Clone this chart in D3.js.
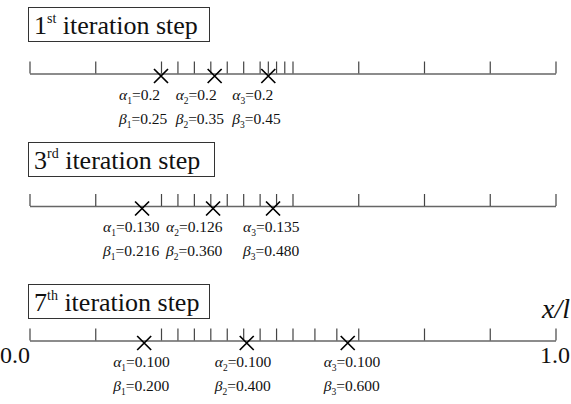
<!DOCTYPE html>
<html>
<head>
<meta charset="utf-8">
<script src="https://cdn.jsdelivr.net/npm/d3@7"></script>
<style>
  body { margin: 0; background: #fff; }
  svg { display: block; font-family: "Liberation Serif", "Times New Roman", serif; }
</style>
</head>
<body>
<div id="graphic"></div>
<script>
// iteration steps shown
var stepNumbers = ["1", "3", "7"];
var stepSuffixes = ["st", "rd", "th"];

// mesh node positions (x/l) for each step
var ticksStep1 = [0, 0.125, 0.25, 0.28125, 0.3125, 0.34375, 0.375, 0.40625, 0.4375,
  0.453125, 0.46875, 0.484375, 0.5, 0.625, 0.75, 0.875, 1];
var ticksStep3 = [0, 0.125, 0.25, 0.28125, 0.3125, 0.34375, 0.375, 0.40625, 0.4375,
  0.46875, 0.5, 0.625, 0.75, 0.875, 1];
var ticksStep7 = [0, 0.125, 0.25, 0.28125, 0.3125, 0.34375, 0.375, 0.40625, 0.4375,
  0.46875, 0.5, 0.541667, 0.583333, 0.625, 0.75, 0.875, 1];

// crack markers (x/l) as drawn
var crossStep1 = [0.25, 0.352, 0.454];
var crossStep3 = [0.214, 0.349, 0.463];
var crossStep7 = [0.218, 0.413, 0.605];

// identified parameters
var alphaStep1 = ["0.2", "0.2", "0.2"];
var betaStep1 = ["0.25", "0.35", "0.45"];
var alphaStep3 = ["0.130", "0.126", "0.135"];
var betaStep3 = ["0.216", "0.360", "0.480"];
var alphaStep7 = ["0.100", "0.100", "0.100"];
var betaStep7 = ["0.200", "0.400", "0.600"];

var axisLabels = ["0.0", "1.0"];

(function () {
  var width = 571, height = 404;
  var rows = [
    {ticks: ticksStep1, cross: crossStep1, alpha: alphaStep1, beta: betaStep1},
    {ticks: ticksStep3, cross: crossStep3, alpha: alphaStep3, beta: betaStep3},
    {ticks: ticksStep7, cross: crossStep7, alpha: alphaStep7, beta: betaStep7}
  ];
  // layout per row
  var axisY = [73.5, 206, 340.5];
  var boxTop = [7, 142, 284];
  var boxW = [181, 186, 181];
  var labelOffset = [[-42, -39, -36], [-39, -47, -30], [-31, -32, -24]];

  var x = d3.scaleLinear().domain([0, 1]).range([29.5, 555.5]);

  var svg = d3.select("#graphic").append("svg")
    .attr("width", width)
    .attr("height", height);

  rows.forEach(function (row, i) {
    var g = svg.append("g");

    // title box
    g.append("rect")
      .attr("x", 28.5).attr("y", boxTop[i] + 0.5)
      .attr("width", boxW[i]).attr("height", 34)
      .attr("fill", "none").attr("stroke", "#333").attr("stroke-width", 1);
    var title = g.append("text")
      .attr("x", 34).attr("y", boxTop[i] + 27)
      .attr("font-size", 26).attr("fill", "#111");
    title.append("tspan").text(stepNumbers[i]);
    title.append("tspan").attr("font-size", 14).attr("dy", -11).text(stepSuffixes[i]);
    title.append("tspan").attr("dy", 11).text(" iteration step");

    // axis with mesh ticks
    var ax = g.append("g")
      .attr("transform", "translate(0," + axisY[i] + ")")
      .call(d3.axisTop(x).tickValues(row.ticks).tickSize(12).tickSizeOuter(0).tickFormat(""));
    ax.select(".domain").attr("stroke", "#666").attr("stroke-width", 1.4);
    ax.selectAll(".tick line").attr("stroke", "#444").attr("stroke-width", 1.2);

    // crosses
    var s = 7;
    g.selectAll(".cross")
      .data(row.cross)
      .enter().append("path")
      .attr("d", function (d) {
        var cx = x(d), cy = axisY[i] + 2.5;
        return "M" + (cx - s) + "," + (cy - s) + "L" + (cx + s) + "," + (cy + s) +
               "M" + (cx - s) + "," + (cy + s) + "L" + (cx + s) + "," + (cy - s);
      })
      .attr("stroke", "#000").attr("stroke-width", 1.7).attr("fill", "none");

    // alpha / beta labels
    function label(sym, vals, dy) {
      var t = g.selectAll(".lab-" + sym)
        .data(vals)
        .enter().append("text")
        .attr("x", function (d, j) { return x(row.cross[j]) + labelOffset[i][j]; })
        .attr("y", axisY[i] + dy)
        .attr("font-size", 15.5).attr("fill", "#111");
      t.append("tspan").attr("font-style", "italic").text(sym);
      t.append("tspan").attr("font-size", 9.5).attr("dy", 4)
        .text(function (d, j) { return j + 1; });
      t.append("tspan").attr("dy", -4).text(function (d) { return "=" + d; });
    }
    label("\u03B1", row.alpha, 26);
    label("\u03B2", row.beta, 50);
  });

  // end labels on last axis
  svg.append("text").attr("x", 0).attr("y", 363).attr("font-size", 24)
    .attr("fill", "#111").text(axisLabels[0]);
  svg.append("text").attr("x", 570).attr("y", 363).attr("font-size", 24)
    .attr("text-anchor", "end").attr("fill", "#111").text(axisLabels[1]);
  svg.append("text").attr("x", 570).attr("y", 318).attr("font-size", 28)
    .attr("text-anchor", "end").attr("font-style", "italic").attr("fill", "#111").text("x/l");
})();
</script>
</body>
</html>
